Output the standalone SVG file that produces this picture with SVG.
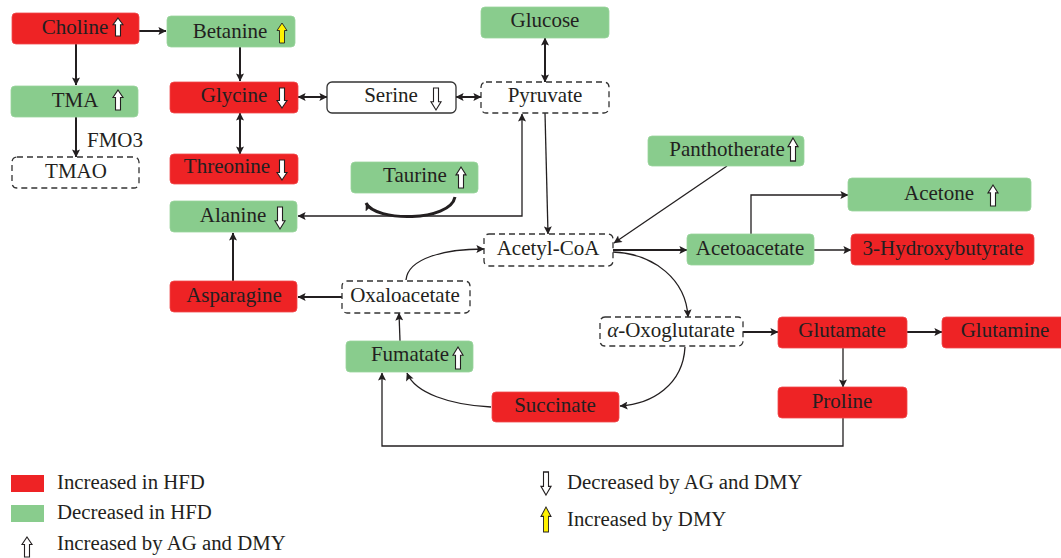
<svg xmlns="http://www.w3.org/2000/svg" xmlns:xlink="http://www.w3.org/1999/xlink" width="1061" height="558" viewBox="0 0 1061 558">
<style>
  .red{fill:#EE2325;stroke:#F04A4B;stroke-width:0.8}
  .green{fill:#89CC8D;stroke:#9AD49D;stroke-width:0.8}
  .dash{fill:#fff;stroke:#333;stroke-width:1.3;stroke-dasharray:6 4}
  .solid{fill:#fff;stroke:#333;stroke-width:1.3}
  .t{font-family:"Liberation Serif","Times New Roman",serif;font-size:21px;fill:#231F20;text-anchor:middle}
  .lt{font-family:"Liberation Serif","Times New Roman",serif;font-size:20.8px;fill:#231F20}
  .ln{fill:none;stroke:#231F20;stroke-width:1.3}
  .thk{fill:none;stroke:#231F20;stroke-width:2}
  .ar{fill:#fff;stroke:#231F20;stroke-width:1.1}
  .ya{fill:#FFF200;stroke:#231F20;stroke-width:0.9}
</style>
<defs>
  <marker id="ah" viewBox="0 0 10 10" refX="9.5" refY="5" markerWidth="9" markerHeight="8" orient="auto-start-reverse" markerUnits="userSpaceOnUse">
    <path d="M0,0 L10,5 L0,10 L2,5 Z" fill="#231F20"/>
  </marker>
  <path id="upA" d="M0,0 L5,7.5 L2.5,7.5 L2.5,20 L-2.5,20 L-2.5,7.5 L-5,7.5 Z"/>
</defs>

<g id="connectors">
  <path class="thk" d="M139,31 H166" marker-end="url(#ah)"/>
  <path class="thk" d="M76,44 V85" marker-end="url(#ah)"/>
  <path class="thk" d="M76,117 V157" marker-end="url(#ah)"/>
  <path class="thk" d="M240,47 V81" marker-end="url(#ah)"/>
  <path class="thk" d="M240,113 V154" marker-start="url(#ah)" marker-end="url(#ah)"/>
  <path class="thk" d="M298,97 H327" marker-start="url(#ah)" marker-end="url(#ah)"/>
  <path class="thk" d="M456,97 H481" marker-start="url(#ah)" marker-end="url(#ah)"/>
  <path class="thk" d="M545,38 V82" marker-start="url(#ah)" marker-end="url(#ah)"/>
  <path class="ln" d="M545,113 L548,234" marker-end="url(#ah)"/>
  <path class="ln" d="M522,114 V216 H298" marker-start="url(#ah)" marker-end="url(#ah)"/>
  <path fill="none" stroke="#231F20" stroke-width="3" d="M455,197 C450,222 375,222 366,203" marker-end="url(#ah)"/>
  <path class="ln" d="M727,166 L614,243" marker-end="url(#ah)"/>
  <path class="thk" d="M613,250 H687" marker-end="url(#ah)"/>
  <path class="ln" d="M751,234 V195 H848" marker-end="url(#ah)"/>
  <path class="ln" d="M814,250 H851" marker-end="url(#ah)"/>
  <path class="ln" d="M613,252 C655,254 686,280 688,317" marker-end="url(#ah)"/>
  <path class="ln" d="M406,280 C408,258 445,249 484,249" marker-end="url(#ah)"/>
  <path class="thk" d="M342,297 H298" marker-end="url(#ah)"/>
  <path class="thk" d="M233,281 V233" marker-end="url(#ah)"/>
  <path class="ln" d="M400,341 L399,313" marker-end="url(#ah)"/>
  <path class="ln" d="M685,347 C683,385 652,404 620,406" marker-end="url(#ah)"/>
  <path class="ln" d="M491,407 C450,405 415,393 407,373" marker-end="url(#ah)"/>
  <path class="thk" d="M743,332 H778" marker-end="url(#ah)"/>
  <path class="thk" d="M907,332 H942" marker-end="url(#ah)"/>
  <path class="ln" d="M843,348 V387" marker-end="url(#ah)"/>
  <path class="ln" d="M843,418 V446 H382 V373" marker-end="url(#ah)"/>
</g>

<g id="choline"><rect class="red" x="12" y="13" width="127" height="31" rx="4"/><text class="t" x="75" y="34">Choline</text><use href="#upA" class="ar" transform="translate(118,18) scale(1,0.9)"/></g>
<g id="betanine"><rect class="green" x="167" y="16" width="128" height="31" rx="4"/><text class="t" x="230" y="38">Betanine</text><use href="#upA" class="ya" transform="translate(282,23)"/></g>
<g id="tma"><rect class="green" x="11" y="86" width="127" height="31" rx="4"/><text class="t" x="75" y="107">TMA</text><use href="#upA" class="ar" transform="translate(118,90)"/></g>
<g id="tmao"><rect class="dash" x="12" y="157" width="127" height="31" rx="5"/><text class="t" x="76" y="178">TMAO</text></g>
<g id="fmo3"><text class="t" x="87" y="147" style="text-anchor:start">FMO3</text></g>
<g id="glycine"><rect class="red" x="170" y="82" width="128" height="31" rx="4"/><text class="t" x="234" y="102">Glycine</text><use href="#upA" class="ar" transform="translate(282,108) scale(1,-1)"/></g>
<g id="threonine"><rect class="red" x="170" y="154" width="128" height="30" rx="4"/><text class="t" x="227" y="173">Threonine</text><use href="#upA" class="ar" transform="translate(282,180) scale(1,-1)"/></g>
<g id="serine"><rect class="solid" x="327" y="82" width="129" height="31" rx="5"/><text class="t" x="391" y="102">Serine</text><use href="#upA" class="ar" transform="translate(436,110) scale(1,-1.1)"/></g>
<g id="pyruvate"><rect class="dash" x="481" y="82" width="128" height="31" rx="5"/><text class="t" x="545" y="102">Pyruvate</text></g>
<g id="glucose"><rect class="green" x="481" y="7" width="128" height="31" rx="4"/><text class="t" x="545" y="27">Glucose</text></g>
<g id="taurine"><rect class="green" x="351" y="162" width="127" height="31" rx="4"/><text class="t" x="415" y="182">Taurine</text><use href="#upA" class="ar" transform="translate(461,167) scale(1,1.05)"/></g>
<g id="alanine"><rect class="green" x="170" y="201" width="127" height="31" rx="4"/><text class="t" x="233" y="222">Alanine</text><use href="#upA" class="ar" transform="translate(280,229) scale(1,-1.1)"/></g>
<g id="acetylcoa"><rect class="dash" x="484" y="234" width="129" height="32" rx="5"/><text class="t" x="548" y="255">Acetyl-CoA</text></g>
<g id="panthotherate"><rect class="green" x="648" y="136" width="156" height="30" rx="4"/><text class="t" x="727" y="156">Panthotherate</text><use href="#upA" class="ar" transform="translate(793,138) scale(1,1.15)"/></g>
<g id="acetone"><rect class="green" x="848" y="178" width="183" height="33" rx="4"/><text class="t" x="939" y="200">Acetone</text><use href="#upA" class="ar" transform="translate(993,185) scale(1,1.05)"/></g>
<g id="acetoacetate"><rect class="green" x="687" y="234" width="127" height="31" rx="4"/><text class="t" x="750" y="255">Acetoacetate</text></g>
<g id="hydroxybutyrate"><rect class="red" x="851" y="234" width="183" height="31" rx="4"/><text class="t" x="943" y="255">3-Hydroxybutyrate</text></g>
<g id="asparagine"><rect class="red" x="170" y="281" width="127" height="31" rx="4"/><text class="t" x="234" y="302">Asparagine</text></g>
<g id="oxaloacetate"><rect class="dash" x="342" y="281" width="128" height="32" rx="5"/><text class="t" x="405" y="302">Oxaloacetate</text></g>
<g id="fumatate"><rect class="green" x="346" y="341" width="127" height="31" rx="4"/><text class="t" x="410" y="361">Fumatate</text><use href="#upA" class="ar" transform="translate(458,347) scale(1,1.1)"/></g>
<g id="succinate"><rect class="red" x="492" y="392" width="127" height="30" rx="4"/><text class="t" x="555" y="412">Succinate</text></g>
<g id="oxoglutarate"><rect class="dash" x="600" y="317" width="143" height="29" rx="5"/><text class="t" x="671" y="337"><tspan font-style="italic">α</tspan>-Oxoglutarate</text></g>
<g id="glutamate"><rect class="red" x="778" y="317" width="129" height="31" rx="4"/><text class="t" x="842" y="337">Glutamate</text></g>
<g id="glutamine"><rect class="red" x="942" y="317" width="125" height="31" rx="4"/><text class="t" x="1005" y="337">Glutamine</text></g>
<g id="proline"><rect class="red" x="778" y="387" width="129" height="31" rx="4"/><text class="t" x="842" y="408">Proline</text></g>

<g id="legend">
  <rect x="11" y="475" width="33" height="17" fill="#EE2325"/>
  <text class="lt" x="57" y="489">Increased in HFD</text>
  <rect x="11" y="505" width="33" height="17" fill="#89CC8D"/>
  <text class="lt" x="57" y="519">Decreased in HFD</text>
  <use href="#upA" class="ar" transform="translate(27,537) scale(1,1)"/>
  <text class="lt" x="57" y="550">Increased by AG and DMY</text>
  <use href="#upA" class="ar" transform="translate(546,495) scale(1,-1.15)"/>
  <text class="lt" x="567" y="489">Decreased by AG and DMY</text>
  <use href="#upA" class="ya" transform="translate(546,507) scale(1,1.25)"/>
  <text class="lt" x="567" y="526">Increased by DMY</text>
</g>
</svg>
